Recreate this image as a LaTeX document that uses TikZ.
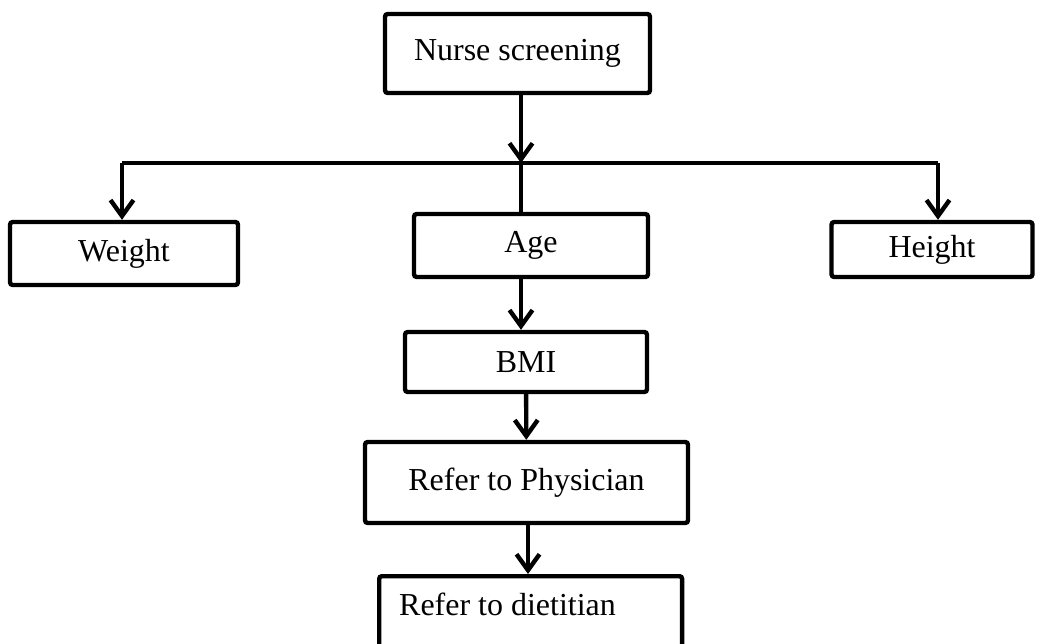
\documentclass[tikz,border=0pt]{standalone}
\usepackage{fontspec}
\setmainfont{Liberation Serif}
\usepackage{tikz}
\usetikzlibrary{arrows.meta,positioning,calc}
\tikzset{
  box/.style  = {rectangle, rounded corners=1.5pt, draw=black, fill=white,
                 line width=2.5pt, text centered, inner sep=0pt,
                 font=\fontsize{18.2}{21}\selectfont},
  arr/.style  = {-{Straight Barb[length=0.32cm,width=0.46cm,line width=2.5pt]},
                 line width=2.5pt, draw=black},
  bar/.style  = {line width=2.5pt, draw=black},
}
\begin{document}
\begin{tikzpicture}[x=0.02cm, y=-0.02cm]

\useasboundingbox (0,0) rectangle (1037,644);

\node[box, minimum width=5.3cm, minimum height=1.58cm] (nurse) at (517.5,53.5) {Nurse screening};

%% Second row
\node[box, minimum width=4.56cm, minimum height=1.26cm] (weight) at (124,253.5) {Weight};
\node[box, minimum width=4.68cm, minimum height=1.26cm] (age)    at (531,245.5) {Age};
\node[box, minimum width=4.02cm, minimum height=1.1cm]  (height) at (932,249.5) {Height};

%% Chain below age
\node[box, minimum width=4.84cm, minimum height=1.2cm]  (bmi)  at (526,362)     {BMI};
\node[box, minimum width=6.46cm, minimum height=1.62cm] (phys) at (526.5,482.5) {Refer to Physician};
\node[box, anchor=north west, align=flush left, text width=5.26cm,
      inner xsep=0.4cm, inner ysep=0.34cm, text depth=1.4cm]
  (diet) at (377,574) {Refer to dietitian};

%% Branch line
\coordinate (bus) at (521,163);
\coordinate (bl)  at (122,163);
\coordinate (br)  at (938,163);

\draw[arr] (nurse.south -| bus) -- (bus);
\draw[bar] (bl) -- (br);
\draw[arr] (bl) -- (bl |- weight.north);
\draw[arr] (br) -- (br |- height.north);
\draw[bar] (bus) -- (bus |- age.north);
\draw[arr] (age.south -| bus) -- (bmi.north -| bus);
\draw[arr] (bmi) -- (phys);
\draw[arr] (phys.south -| 528,0) -- (diet.north -| 528,0);

\end{tikzpicture}
\end{document}
